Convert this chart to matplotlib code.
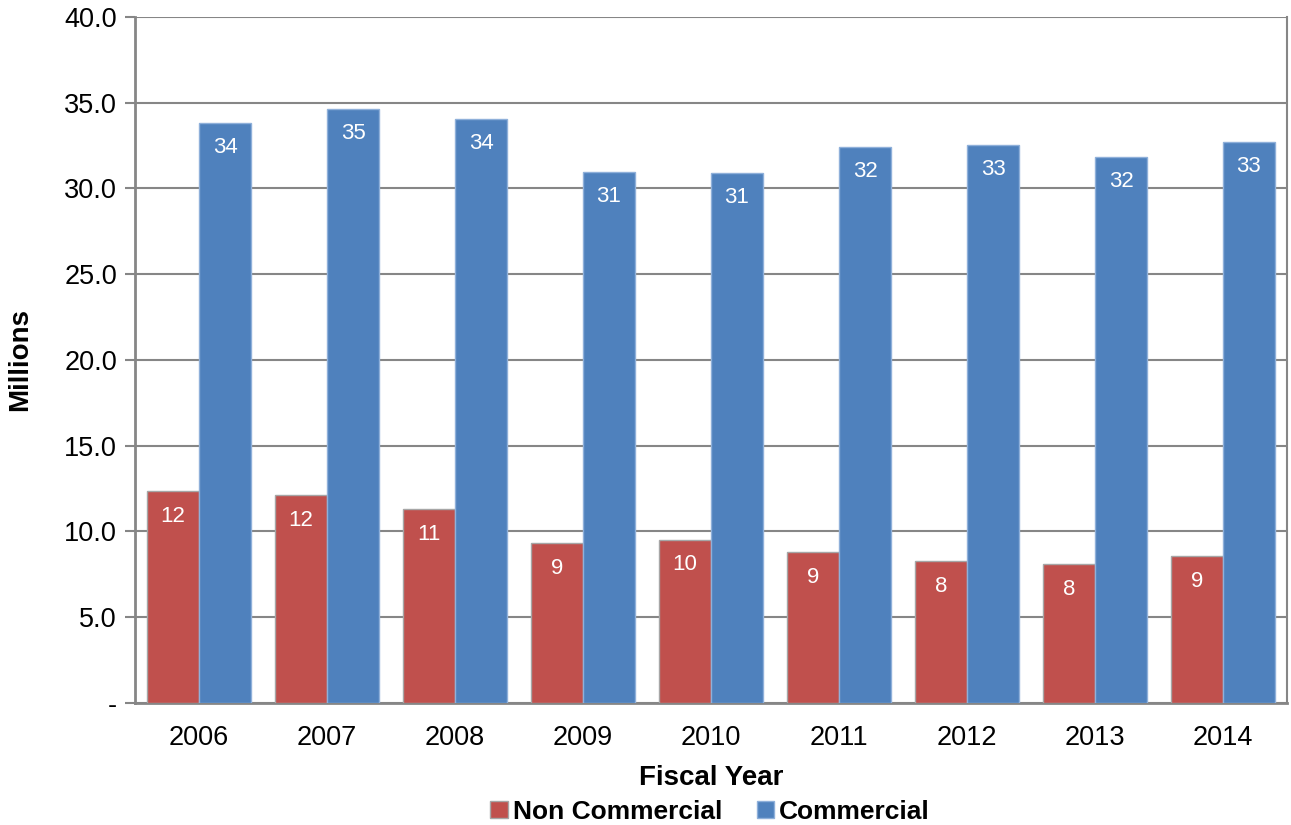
import numpy as np
import matplotlib.pyplot as plt
from matplotlib.ticker import FuncFormatter

plt.rcParams['font.family'] = ['Liberation Sans', 'DejaVu Sans']

# data (millions)
years = ['2006', '2007', '2008', '2009', '2010', '2011', '2012', '2013', '2014']
non_commercial = [12.34, 12.11, 11.30, 9.32, 9.52, 8.79, 8.27, 8.09, 8.56]
commercial = [33.83, 34.64, 34.06, 30.97, 30.92, 32.43, 32.55, 31.85, 32.72]

red = '#C0504D'
blue = '#4F81BD'
grey = '#868686'

fig = plt.figure(figsize=(12.91, 8.25), dpi=100)
ax = fig.add_axes([0.1046, 0.1479, 0.8923, 0.8315])

x = np.arange(len(years))
w = 0.406
b1 = ax.bar(x - w / 2, non_commercial, w, color=red, edgecolor='#A6A6A6', linewidth=1, zorder=3,
            label='Non Commercial')
b2 = ax.bar(x + w / 2, commercial, w, color=blue, edgecolor='#8FB0DA', linewidth=1, zorder=3,
            label='Commercial')

# value labels inside the top of each bar
for bars, vals in [(b1, non_commercial), (b2, commercial)]:
    for rect, v in zip(bars, vals):
        ax.annotate('%d' % round(v), (rect.get_x() + rect.get_width() / 2, v),
                    xytext=(0, -18), textcoords='offset points',
                    ha='center', va='center', color='white', fontsize=16, zorder=4)

ax.set_xlim(-0.5, len(years) - 0.5)
ax.set_ylim(0, 40)
ax.set_yticks(np.arange(0, 41, 5))
ax.yaxis.set_major_formatter(FuncFormatter(lambda v, p: '-' if v == 0 else '%.1f' % v))
ax.set_xticks(x)
ax.set_xticklabels(years)
ax.tick_params(axis='y', length=7, width=1.5, color=grey, labelsize=19.5, pad=6)
ax.tick_params(axis='x', length=0, labelsize=19.5, pad=16)

ax.grid(axis='y', color=grey, linewidth=1.5, zorder=0)
for s in ax.spines.values():
    s.set_color(grey)
    s.set_linewidth(1.5)
ax.spines['top'].set_visible(False)
ax.spines['left'].set_linewidth(2)
ax.spines['bottom'].set_linewidth(2)

ax.set_xlabel('Fiscal Year', fontsize=20, fontweight='bold', labelpad=10)
ax.set_ylabel('Millions', fontsize=20, fontweight='bold', labelpad=22)

fig.legend(handles=[b1, b2], loc='center', bbox_to_anchor=(0.55, 0.016), ncol=2, frameon=False,
           prop={'size': 19, 'weight': 'bold'}, handlelength=0.65, handleheight=0.65,
           handletextpad=0.2, columnspacing=1.3)

fig.savefig('out.png', dpi=100)
